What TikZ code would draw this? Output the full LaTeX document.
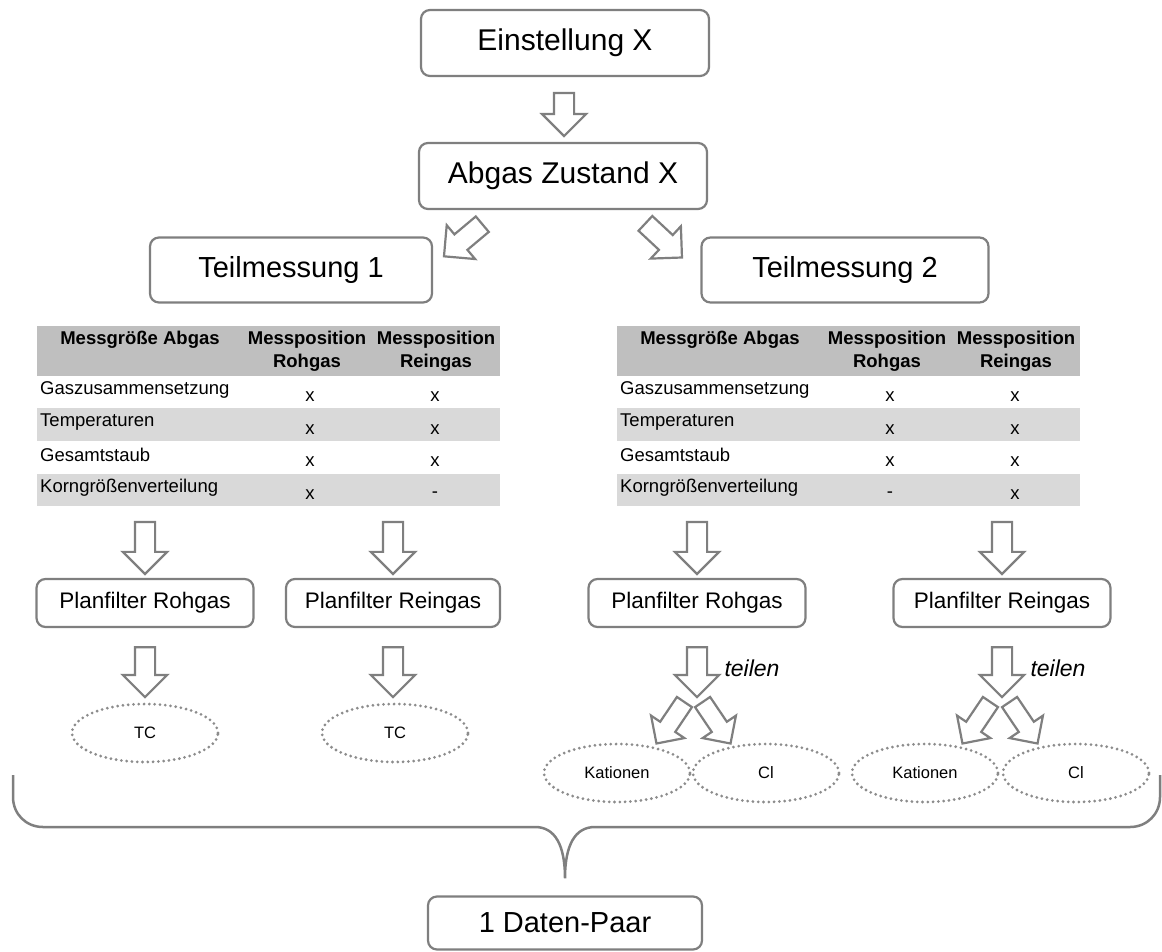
\documentclass[tikz,border=0pt]{standalone}
\usepackage{fontspec}
\setmainfont{Liberation Sans}
\usetikzlibrary{positioning, calc, shapes.geometric, shapes.arrows}

\definecolor{linegray}{RGB}{127,127,127}
\definecolor{dotgray}{RGB}{140,140,140}
\definecolor{headgray}{RGB}{191,191,191}
\definecolor{rowgray}{RGB}{217,217,217}

\begin{document}
\begin{tikzpicture}[
    x=1pt, y=-1pt,
    box/.style={rectangle, draw=linegray, line width=2.2pt, rounded corners=9pt,
                fill=white, inner sep=0pt, font=\fontsize{30}{36}\selectfont},
    filterbox/.style={box, minimum width=217pt, minimum height=48pt,
                font=\fontsize{22.5}{27}\selectfont},
    probe/.style={ellipse, draw=dotgray, line width=3.1pt, line cap=round,
                dash pattern=on 0pt off 5.3pt, minimum width=146pt,
                minimum height=58pt, font=\fontsize{16.5}{20}\selectfont},
    blockarrow/.style={single arrow, draw=linegray, fill=white, line width=2.2pt,
                inner xsep=0pt, inner ysep=9pt, single arrow head extend=12pt,
                minimum width=42pt, minimum height=#1},
    smallarrow/.style={blockarrow=#1, inner ysep=8pt,
                single arrow head extend=11pt, minimum width=38pt},
    cell/.style={inner sep=0pt, font=\fontsize{18.5}{23}\selectfont},
    headcell/.style={cell, align=center, font=\fontsize{18.5}{23}\selectfont\bfseries},
    note/.style={inner sep=0pt, font=\fontsize{23}{28}\selectfont\itshape},
    brace/.style={draw=linegray, line width=2.5pt}
]
  \useasboundingbox (0,0) rectangle (1162,951);

  % Einstellung und Teilmessungen
  \node[box, minimum width=288pt, minimum height=66pt] (einst) at (565,43) {Einstellung X};
  \node[box, minimum width=288pt, minimum height=66pt] (abgas) at (563,176) {Abgas Zustand X};
  \node[box, minimum width=282pt, minimum height=65pt,
        font=\fontsize{29}{35}\selectfont] (tm1) at (291,270) {Teilmessung 1};
  \node[box, minimum width=287pt, minimum height=65pt,
        font=\fontsize{29}{35}\selectfont] (tm2) at (845,270) {Teilmessung 2};

  \node[blockarrow=43pt, rotate=-90] (p0) at ($(einst.south)!0.5!(abgas.north)$) {};
  \node[blockarrow=50pt, rotate=220] (p1) at (467,237) {};
  \node[blockarrow=50pt, rotate=-43] (p2) at (660,237) {};

  % Messtabellen
  \foreach \t/\dx/\ka/\kb in {1/0/x/-, 2/580/-/x} {
    \begin{scope}[xshift=\dx pt]
      \fill[headgray] (37,326) rectangle (500,376);
      \fill[rowgray] (37,408) rectangle (500,441);
      \fill[rowgray] (37,474) rectangle (500,506);
      \node[headcell] (t\t-h1) at (140,340) {Messgröße Abgas};
      \node[headcell] (t\t-h2) at (307,351) {Messposition\\Rohgas};
      \node[headcell] (t\t-h3) at (436,351) {Messposition\\Reingas};
      \foreach \r/\name/\va/\vb in {1/Gaszusammensetzung/x/x, 2/Temperaturen/x/x,
                                    3/Gesamtstaub/x/x, 4/Korngrößenverteilung/\ka/\kb} {
        \node[cell, anchor=west] (t\t-n\r) at (40,357.5+32.5*\r) {\name};
        \node[cell] (t\t-a\r) at (310,364.5+32.5*\r) {\va};
        \node[cell] (t\t-b\r) at (435,364.5+32.5*\r) {\vb};
      }
    \end{scope}
  }

  % Planfilter
  \node[filterbox] (pfr1) at (145,603) {Planfilter Rohgas};
  \node[filterbox, minimum width=214pt] (pfg1) at (393,603) {Planfilter Reingas};
  \node[filterbox] (pfr2) at (697,603) {Planfilter Rohgas};
  \node[filterbox] (pfg2) at (1002,603) {Planfilter Reingas};

  \foreach \f in {pfr1, pfg1, pfr2, pfg2} {
    \node[blockarrow=52pt, rotate=-90] (in-\f) at ($(\f.north)+(0,-35)$) {};
    \node[blockarrow=50pt, rotate=-90] (out-\f) at ($(\f.south)+(0,39)$) {};
  }

  % Analysen
  \node[probe] (tc1) at (145,733) {TC};
  \node[probe] (tc2) at (395,733) {TC};
  \node[probe] (kat1) at (617,773) {Kationen};
  \node[probe] (cl1) at (766,773) {Cl};
  \node[probe] (kat2) at (925,773) {Kationen};
  \node[probe] (cl2) at (1076,773) {Cl};

  \node[smallarrow=50pt, rotate=236] (s1l) at (673,719) {};
  \node[smallarrow=50pt, rotate=-56] (s1r) at (714,719) {};
  \node[smallarrow=50pt, rotate=236] (s2l) at (979,719) {};
  \node[smallarrow=50pt, rotate=-56] (s2r) at (1021,719) {};
  \node[note] (teil1) at (752,668) {teilen};
  \node[note] (teil2) at (1058,668) {teilen};

  % Zusammenfassung
  \node[box, minimum width=274pt, minimum height=53pt,
        font=\fontsize{29}{35}\selectfont] (paar) at (565,923) {1 Daten-Paar};
  \coordinate (spitze) at ($(paar.north)+(0,-17)$);
  \draw[brace] (13,775) -- (13,797) .. controls (13,814) and (26,827) .. (43,827)
    -- (535,827) .. controls (555,827) and (565,845) .. (spitze)
    .. controls (565,845) and (575,827) .. (595,827)
    -- (1130,827) .. controls (1147,827) and (1160,814) .. (1160,797) -- (1160,775);
\end{tikzpicture}
\end{document}
